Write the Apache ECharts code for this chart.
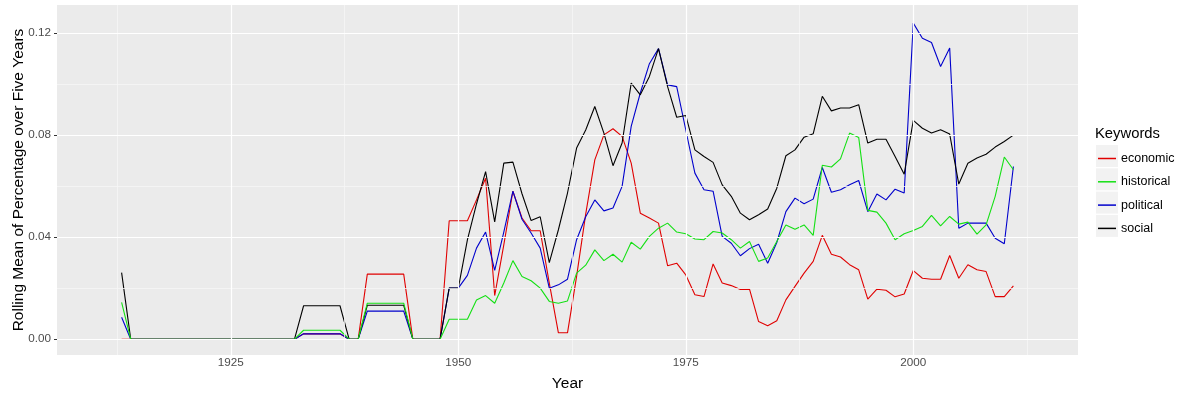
<!DOCTYPE html>
<html><head><meta charset="utf-8">
<script src="https://cdn.jsdelivr.net/npm/echarts@6/dist/echarts.min.js"></script>
<style>html,body{margin:0;padding:0;background:#fff}#c{width:1200px;height:400px}</style>
</head><body><div id="c"></div>
<script>
const years = [1913,1914,1915,1916,1917,1918,1919,1920,1921,1922,1923,1924,1925,1926,1927,1928,1929,1930,1931,1932,
1933,1934,1935,1936,1937,1938,1939,1940,1941,1942,1943,1944,1945,1946,1947,1948,
1949,1950,1951,1952,1953,1954,1955,1956,1957,1958,1959,1960,1961,1962,1963,1964,1965,1966,1967,1968,
1969,1970,1971,1972,1973,1974,1975,1976,1977,1978,1979,1980,1981,1982,1983,1984,1985,1986,1987,1988,
1989,1990,1991,1992,1993,1994,1995,1996,1997,1998,1999,2000,2001,2002,2003,2004,2005,2006,2007,2008,
2009,2010,2011];

const economic = [0, 0,0,0,0,0,0,0,0,0,0,0,0,0,0,0,0,0,0,0,
0.0021,0.0021,0.0021,0.0021,0.0021, 0,0, 0.0255,0.0255,0.0255,0.0255,0.0255, 0,0,0,0,
0.0464,0.0464,0.0464,0.0546,0.0631,0.0171,0.037,0.058,0.0475,0.0425,
0.0425,0.022,0.0025,0.0025,0.0246,0.049,0.0703,0.0801,0.0825,0.0795,
0.069,0.0494,0.0475,0.0455,0.0288,0.0298,0.0252,0.0174,0.0167,0.0295,
0.022,0.021,0.0195,0.0196,0.0069,0.0053,0.0072,0.0154,0.0207,0.0259,
0.0305,0.0407,0.0333,0.0322,0.0292,0.0272,0.0157,0.0196,0.0192,0.0166,
0.0177,0.0269,0.0239,0.0235,0.0235,0.0328,0.0239,0.0292,0.0272,0.0265,
0.0167,0.0167,0.0209];

const historical = [0.0144, 0,0,0,0,0,0,0,0,0,0,0,0,0,0,0,0,0,0,0,
0.0035,0.0035,0.0035,0.0035,0.0035, 0,0, 0.0141,0.0141,0.0141,0.0141,0.0141, 0,0,0,0,
0.0078,0.0078,0.0078,0.0154,0.0171,0.0141,0.022,0.0308,0.0246,0.0229,
0.02,0.0148,0.0141,0.015,0.0259,0.029,0.035,0.0308,0.0333,0.0302,
0.038,0.0353,0.0403,0.0435,0.0455,0.042,0.0413,0.0393,0.039,0.0422,
0.0416,0.039,0.0357,0.0383,0.0305,0.0318,0.0383,0.0448,0.0431,0.0448,
0.0407,0.0682,0.0675,0.0707,0.0808,0.0791,0.0505,0.0498,0.0455,0.039,
0.0413,0.0426,0.0442,0.0485,0.0444,0.0481,0.0451,0.0459,0.0412,0.0448,
0.056,0.0714,0.0664];

const political = [0.0086, 0,0,0,0,0,0,0,0,0,0,0,0,0,0,0,0,0,0,0,
0.0021,0.0021,0.0021,0.0021,0.0021, 0,0, 0.011,0.011,0.011,0.011,0.011, 0,0,0,0,
0.02,0.02,0.025,0.0357,0.042,0.027,0.042,0.058,0.047,0.0416,
0.0357,0.02,0.0213,0.0235,0.039,0.048,0.0546,0.0503,0.0514,0.0599,
0.0834,0.0965,0.108,0.1139,0.0997,0.099,0.082,0.0651,0.0586,0.058,
0.0403,0.0376,0.0327,0.0355,0.0372,0.0298,0.0379,0.05,0.0553,0.0531,
0.0549,0.0673,0.0576,0.0586,0.0605,0.0622,0.05,0.0569,0.0546,0.0588,
0.0573,0.1239,0.118,0.1163,0.1069,0.1141,0.0435,0.0455,0.0455,0.0455,
0.0396,0.0374,0.0677];

const social = [0.0261, 0,0,0,0,0,0,0,0,0,0,0,0,0,0,0,0,0,0,0,
0.0131,0.0131,0.0131,0.0131,0.0131, 0,0, 0.0133,0.0133,0.0133,0.0133,0.0133, 0,0,0,0,
0.02,0.02,0.0389,0.053,0.0657,0.046,0.069,0.0694,0.057,0.0465,
0.048,0.030,0.0429,0.0573,0.0749,0.082,0.0912,0.0808,0.068,0.0769,
0.1004,0.0958,0.103,0.1139,0.099,0.087,0.0877,0.0742,0.0716,0.0693,
0.0605,0.056,0.0494,0.0468,0.0488,0.051,0.0592,0.0719,0.0742,0.0792,
0.0805,0.0952,0.0895,0.0906,0.0906,0.0919,0.0769,0.0784,0.0784,0.0716,
0.0647,0.0858,0.0827,0.0808,0.0821,0.0804,0.0608,0.069,0.071,0.0725,
0.0753,0.0775,0.08];

const seriesNames = ['economic','historical','political','social'];
const seriesColors = ['#E00000','#14E014','#0000CC','#000000'];
const xTicks = [1925,1950,1975,2000];
const xMinor = [1912.5,1937.5,1962.5,1987.5,2012.5];
const yTicks = [0,0.04,0.08,0.12];
const yMinor = [0.02,0.06,0.10];

const FONT = '"Liberation Sans", Arial, sans-serif';
const chart = echarts.init(document.getElementById('c'), null, {renderer:'canvas'});

const allData = [economic, historical, political, social];
const lineSeries = seriesNames.map((n,i)=>({
  name:n, type:'line', showSymbol:false, symbol:'none', animation:false,
  z: n==='historical' ? 4 : 3,
  lineStyle:{color:seriesColors[i], width:1.1},
  itemStyle:{color:seriesColors[i]},
  data: years.map((y,k)=>[y, allData[i][k]])
}));

const gridLines = {
  name:'_grid', type:'line', data:[], z:1, silent:true, animation:false,
  markLine:{
    silent:true, symbol:['none','none'], label:{show:false}, animation:false,
    emphasis:{disabled:true},
    data:[
      ...xMinor.map(v=>({xAxis:v, lineStyle:{color:'#F6F6F6', width:0.8, type:'solid'}})),
      ...yMinor.map(v=>({yAxis:v, lineStyle:{color:'#F6F6F6', width:0.8, type:'solid'}})),
      ...xTicks.map(v=>({xAxis:v, lineStyle:{color:'#FFFFFF', width:1.2, type:'solid'}})),
      ...yTicks.map(v=>({yAxis:v, lineStyle:{color:'#FFFFFF', width:1.2, type:'solid'}}))
    ]
  }
};

const keyBoxes = seriesNames.map((n,i)=>({
  type:'rect', left:1096, top:145 + i*23.3, z:0,
  shape:{width:22, height:22}, style:{fill:'#F2F2F2'}
}));

chart.setOption({
  animation:false,
  backgroundColor:'#FFFFFF',
  title:{text:'Keywords', left:1090, top:121,
    textStyle:{fontFamily:FONT, fontSize:14.8, fontWeight:'normal', color:'#000'}},
  grid:{left:57, right:122, top:5, bottom:45, show:true, backgroundColor:'#EBEBEB', borderWidth:0,
    containLabel:false, outerBoundsMode:'none'},
  legend:{
    data:seriesNames, orient:'vertical', left:1093, top:145.5,
    icon:'rect', itemWidth:18, itemHeight:1.5, itemGap:7.3,
    textStyle:{fontFamily:FONT, fontSize:12.5, color:'#000', lineHeight:16},
    selectedMode:false
  },
  graphic: keyBoxes,
  xAxis:{
    type:'value', min:1905.9, max:2018.1,
    name:'Year', nameLocation:'middle', nameGap:21, nameMoveOverlap:false,
    nameTextStyle:{fontFamily:FONT, fontSize:15.5, color:'#000'},
    axisLine:{show:false},
    axisTick:{show:true, length:3, lineStyle:{color:'#333'}, customValues:xTicks},
    axisLabel:{show:true, margin:2, fontFamily:FONT, fontSize:11.7, color:'#4D4D4D', customValues:xTicks, formatter:v=>String(v)},
    splitLine:{show:false}
  },
  yAxis:{
    type:'value', min:-0.0062, max:0.131,
    name:'Rolling Mean of Percentage over Five Years', nameLocation:'middle', nameGap:30, nameMoveOverlap:false,
    nameTextStyle:{fontFamily:FONT, fontSize:15.5, color:'#000'},
    axisLine:{show:false},
    axisTick:{show:true, length:3, lineStyle:{color:'#333'}, customValues:yTicks},
    axisLabel:{show:true, margin:6, fontFamily:FONT, fontSize:11.7, color:'#4D4D4D', customValues:yTicks, formatter:v=>v.toFixed(2)},
    splitLine:{show:false}
  },
  series:[gridLines, ...lineSeries]
});
</script></body></html>
